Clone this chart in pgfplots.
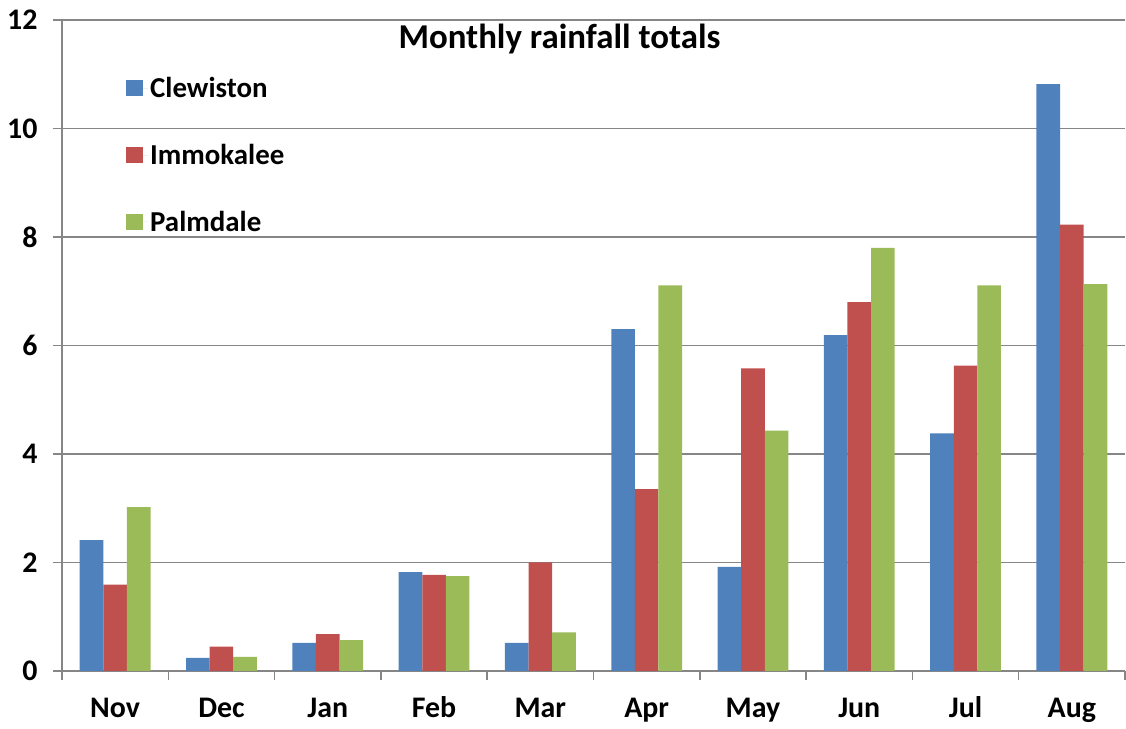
\documentclass[border=0pt]{standalone}
\usepackage{pgfplots}
\pgfplotsset{compat=1.18}
\usepackage{fontspec}
\setmainfont{Carlito}
\definecolor{cblue}{HTML}{4F81BD}
\definecolor{cred}{HTML}{C0504D}
\definecolor{cgreen}{HTML}{9BBB59}
\definecolor{gridgray}{HTML}{868686}
\begin{document}
\begin{tikzpicture}
\begin{axis}[
  scale only axis,
  width=1063bp, height=651bp,
  xmin=-0.5, xmax=9.5,
  ymin=0, ymax=12,
  ytick={0,2,...,12},
  xtick={0,...,9},
  xticklabels={Nov,Dec,Jan,Feb,Mar,Apr,May,Jun,Jul,Aug},
  minor xtick={-0.5,0.5,...,9.5},
  major x tick style={draw=none},
  minor x tick style={draw=gridgray, line width=1.5bp},
  major y tick style={draw=gridgray, line width=1.5bp},
  tick align=outside,
  tick pos=left,
  major tick length=9bp,
  minor tick length=9bp,
  axis x line*=bottom,
  axis y line*=left,
  axis line style={draw=gridgray, line width=1.5bp, -},
  ymajorgrids,
  major grid style={draw=gridgray, line width=1.2bp},
  ybar=0pt,
  bar width=0.222,
  /pgf/number format/assume math mode=true,
  ticklabel style={font=\fontsize{30}{36}\selectfont\bfseries},
  yticklabel style={xshift=-12bp},
  xticklabel style={anchor=base, yshift=-38bp},
  legend style={at={(rel axis cs:0.0602,0.915)}, anchor=north west, draw=none, fill=none,
    font=\fontsize{29}{35}\selectfont\bfseries, row sep=41bp, inner sep=0pt},
  legend cell align=left,
  legend image code/.code={\path (0bp,0bp) -- (22bp,0bp); \fill[#1] (0bp,-8bp) rectangle (17bp,8bp);},
  clip=false,
]
\addplot[fill=cblue, draw=none] coordinates {(0,2.41) (1,0.24) (2,0.52) (3,1.82) (4,0.52) (5,6.30) (6,1.92) (7,6.19) (8,4.38) (9,10.82)};
\addplot[fill=cred, draw=none] coordinates {(0,1.59) (1,0.45) (2,0.68) (3,1.77) (4,2.00) (5,3.35) (6,5.58) (7,6.80) (8,5.63) (9,8.23)};
\addplot[fill=cgreen, draw=none] coordinates {(0,3.02) (1,0.26) (2,0.57) (3,1.75) (4,0.71) (5,7.11) (6,4.43) (7,7.80) (8,7.11) (9,7.13)};
\legend{Clewiston,Immokalee,Palmdale}
\node[font=\fontsize{35}{42}\selectfont\bfseries, anchor=base] at (axis cs:4.18,11.47) {Monthly rainfall totals};
\end{axis}
\pgfresetboundingbox
\path ([xshift=-62bp,yshift=-58bp]current axis.south west) rectangle ([xshift=1bp,yshift=20bp]current axis.north east);
\end{tikzpicture}
\end{document}
